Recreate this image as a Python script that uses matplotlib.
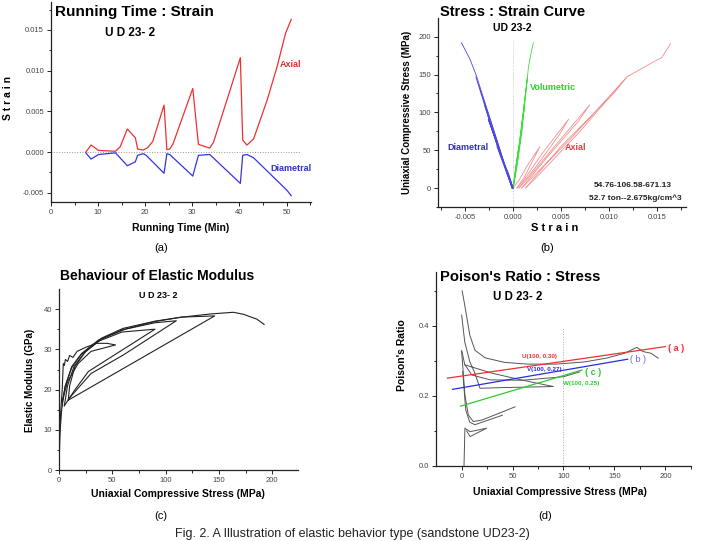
## Imports
import matplotlib.pyplot as plt
from matplotlib.ticker import MultipleLocator

plt.rcParams['font.family'] = ['Liberation Sans', 'DejaVu Sans']

## Data (a) : running time / strain
t_axial = [7.4, 8.5, 10.1, 13.7, 14.7, 16.2, 17.9, 18.4, 19.6, 20.5, 21.6, 24.0, 24.6, 25.2, 25.9,
           30.1, 31.3, 33.7, 34.5, 40.2, 40.7, 41.6, 43.0, 45.9, 48.0, 49.8, 51.0]
axial = [0.0, 0.00086, 0.0002, 0.0001, 0.00065, 0.00283, 0.00176, 0.00037, 0.00025, 0.00053, 0.0013,
         0.00577, 0.0003, 0.00037, 0.001, 0.00782, 0.00094, 0.00049, 0.0012, 0.01159, 0.00147,
         0.00086, 0.0016, 0.0064, 0.0105, 0.0146, 0.0163]
t_diam = [7.4, 8.5, 10.1, 13.7, 16.2, 17.9, 18.4, 19.6, 20.2, 24.0, 24.6, 25.2, 30.1, 31.3, 33.7,
          40.2, 40.7, 41.6, 43.0, 50.1, 51.0]
diam = [-0.0001, -0.00086, -0.0003, -0.0001, -0.00168, -0.0012, -0.0004, -0.0002, -0.0004, -0.0026,
        -0.0002, -0.0003, -0.00295, -0.0004, -0.0003, -0.00385, -0.0004, -0.0003, -0.0007, -0.0047,
        -0.00537]

## Data (b) : stress / strain loops
axial_b = [
    ([0, 0.0006, 0.0015, 0.0028, 0.0022, 0.0012, 0.0004], [0, 10, 30, 55, 40, 15, 0]),
    ([0.0004, 0.0012, 0.0030, 0.0058, 0.0048, 0.0025, 0.0006], [0, 12, 45, 91, 70, 30, 0]),
    ([0.0006, 0.0015, 0.0040, 0.0080, 0.0068, 0.0035, 0.0009], [0, 12, 50, 110, 88, 40, 0]),
    ([0.0009, 0.0020, 0.0060, 0.0119, 0.0105, 0.0050, 0.0013], [0, 14, 65, 147, 125, 55, 0]),
    ([0.0013, 0.0025, 0.0070, 0.0119, 0.0150, 0.0155, 0.01646], [0, 15, 75, 147, 169, 172, 191]),
]
diam_b = [
    ([0, -0.0005, -0.0017, -0.0006, 0], [0, 20, 55, 20, 0]),
    ([0, -0.0013, -0.0026, -0.0012, -0.0001], [0, 45, 91, 40, 0]),
    ([-0.0001, -0.0014, -0.0030, -0.0014, -0.0001], [0, 50, 110, 45, 0]),
    ([-0.0001, -0.0025, -0.0039, -0.0020, -0.0001], [0, 95, 147, 70, 0]),
    ([-0.0001, -0.00136, -0.00247, -0.0038, -0.0045, -0.0054], [0, 50, 94, 147, 170, 192]),
]
vol_b = [
    ([0, 0.0003, 0.0006, 0.0002, 0], [0, 30, 55, 20, 0]),
    ([0, 0.0005, 0.0010, 0.0004, 0], [0, 40, 91, 35, 0]),
    ([0, 0.0006, 0.0012, 0.0005, 0], [0, 50, 110, 40, 0]),
    ([0, 0.0008, 0.0015, 0.0006, 0], [0, 70, 147, 55, 0]),
    ([0, 0.0004, 0.0009, 0.00143, 0.0016, 0.0019, 0.00212], [0, 28, 72, 138, 160, 180, 192]),
]

## Data (c) : elastic modulus / stress
mod_c = [
    ([0, 0.5, 1.5, 3, 4, 5, 6, 8, 10, 13, 17, 25, 35, 45, 53, 40, 30, 18, 8, 3],
     [0, 8, 14, 20, 26.5, 26, 27.5, 27, 28.5, 28, 29.5, 30.5, 31.5, 31.5, 31.1, 30.2, 29.5, 26.5, 22, 17]),
    ([3, 6, 12, 21, 37, 59, 90, 27.5, 15, 5],
     [17, 21, 25.5, 28.8, 32, 34.3, 35, 24.5, 20, 16]),
    ([5, 8, 14, 24, 40, 62, 90, 110, 60.3, 30, 10],
     [16, 21, 25.7, 29.2, 32.6, 35, 36.6, 37.1, 28.6, 24, 18]),
    ([8.7, 10, 15, 25, 40, 60, 90, 115, 146, 8.7],
     [17.4, 21, 25.8, 29.5, 32.8, 35.2, 37, 38, 38.3, 17.4]),
    ([0, 0.9, 2.5, 5.6, 11.9, 21.3, 36.9, 58.8, 90, 115, 143, 163.5, 173, 185.5, 192.3],
     [0, 9.2, 15, 20.7, 25.7, 29, 32.3, 34.8, 36.9, 38, 38.8, 39.2, 38.7, 37.5, 36.2]),
]

## Data (d) : Poisson's ratio / stress
pr_d = [
    ([0.5, 3, 8, 13, 23, 42, 65, 92, 120, 142, 160, 172, 178, 186, 193],
     [0.50, 0.46, 0.374, 0.331, 0.309, 0.296, 0.291, 0.291, 0.297, 0.308, 0.322, 0.339, 0.327, 0.322, 0.308]),
    ([0, 3, 8, 13, 18, 40, 90, 60, 30, 3],
     [0.431, 0.355, 0.298, 0.265, 0.222, 0.224, 0.227, 0.245, 0.265, 0.289]),
    ([0, 3, 10, 28, 60, 100, 116],
     [0.33, 0.29, 0.26, 0.246, 0.245, 0.255, 0.269]),
    ([0, 3.2, 6.5, 11.4, 19.6, 32.7, 52.4],
     [0.327, 0.203, 0.146, 0.127, 0.131, 0.146, 0.169]),
    ([1, 4, 8, 13, 25, 40],
     [0.27, 0.16, 0.125, 0.118, 0.13, 0.145]),
    ([2.3, 3.2, 8.2, 24.5, 8.2, 5],
     [0.0, 0.108, 0.098, 0.108, 0.084, 0.1]),
]
fit_x = {'a': [-14, 200], 'b': [-9, 163], 'c': [-1, 118]}
fit_y = {'a': [0.251, 0.341], 'b': [0.219, 0.305], 'c': [0.171, 0.274]}

## Figure
W, H = 705, 541
fig = plt.figure(figsize=(W / 100, H / 100), dpi=100)


def axe(l, r, b, t):
    # rectangle en pixels -> fraction de figure
    ax = fig.add_axes([l / W, 1 - b / H, (r - l) / W, (b - t) / H])
    ax.spines['top'].set_visible(False)
    ax.spines['right'].set_visible(False)
    for s in ['left', 'bottom']:
        ax.spines[s].set_color('#222')
        ax.spines[s].set_linewidth(0.9)
    ax.tick_params(which='both', direction='out', labelsize=5.5, labelcolor='#444',
                   color='#222', width=0.7, pad=2)
    ax.tick_params(which='major', length=3)
    ax.tick_params(which='minor', length=1.8)
    return ax


def ftxt(x, y, s, **kw):
    fig.text(x / W, 1 - y / H, s, **kw)


## (a)
ax = axe(51, 311, 201.7, 2)
ax.plot([0, 53], [0, 0], ':', color='#999', lw=0.7)
ax.plot(t_axial, axial, color='#ee3030', lw=0.9)
ax.plot(t_diam, diam, color='#3535e0', lw=0.9)
ax.set_xlim(0, 55.2)
ax.set_ylim(-0.0061, 0.01844)
ax.xaxis.set_major_locator(MultipleLocator(10))
ax.xaxis.set_minor_locator(MultipleLocator(5))
ax.yaxis.set_major_locator(MultipleLocator(0.005))
ax.yaxis.set_minor_locator(MultipleLocator(0.0025))
ax.yaxis.set_major_formatter(lambda v, p: '%.3f' % v)
ax.text(48.5, 0.0108, 'Axial', color='#e03030', fontsize=6.5, weight='bold', va='center')
ax.text(46.5, -0.0020, 'Diametral', color='#3030d0', fontsize=6.5, weight='bold', va='center')
ftxt(55, 12, 'Running Time : Strain', fontsize=11, weight='bold', va='center')
ftxt(105, 33, 'U D 23- 2', fontsize=8.5, weight='bold', va='center')
ftxt(8, 98, 'S t r a i n', fontsize=7.5, weight='bold', rotation=90, va='center', ha='center')
ftxt(181, 228, 'Running Time (Min)', fontsize=7.5, weight='bold', va='center', ha='center')
ftxt(161, 248, '(a)', fontsize=8, va='center', ha='center')

## (b)
ax = axe(437.7, 686, 207.3, 18)
ax.plot([0, 0], [-25, 197], ':', color='#bbb', lw=0.6)
for x, y in axial_b:
    ax.plot(x, y, color='#f29090', lw=0.6)
for x, y in vol_b:
    ax.plot(x, y, color='#40dd40', lw=0.6)
for x, y in diam_b:
    ax.plot(x, y, color='#4848e0', lw=0.6)
ax.set_xlim(-0.00788, 0.01806)
ax.set_ylim(-25.5, 224.7)
ax.xaxis.set_major_locator(MultipleLocator(0.005))
ax.xaxis.set_minor_locator(MultipleLocator(0.0025))
ax.yaxis.set_major_locator(MultipleLocator(50))
ax.yaxis.set_minor_locator(MultipleLocator(25))
ax.xaxis.set_major_formatter(lambda v, p: '%.3f' % v)
ax.text(0.0018, 133, 'Volumetric', color='#30d030', fontsize=6.5, weight='bold', va='center')
ax.text(-0.0069, 53, 'Diametral', color='#3030d0', fontsize=6.5, weight='bold', va='center')
ax.text(0.0054, 53, 'Axial', color='#e04040', fontsize=6.5, weight='bold', va='center')
ax.text(0.0166, 3, '54.76-106.58-671.13', fontsize=6, weight='bold', ha='right', va='center', color='#222')
ax.text(0.0176, -13, '52.7 ton--2.675kg/cm^3', fontsize=6, weight='bold', ha='right', va='center', color='#222')
ftxt(440, 12, 'Stress : Strain Curve', fontsize=10.5, weight='bold', va='center')
ftxt(512, 28, 'UD 23-2', fontsize=7.5, weight='bold', va='center', ha='center')
ftxt(407, 112, 'Uniaxial Compressive Stress (MPa)', fontsize=7, weight='bold', rotation=90,
     va='center', ha='center')
ftxt(555, 228, 'S t r a i n', fontsize=8, weight='bold', va='center', ha='center')
ftxt(547, 248, '(b)', fontsize=8, va='center', ha='center')

## (c)
ax = axe(59, 298.3, 470.3, 289.3)
for x, y in mod_c:
    ax.plot(x, y, color='#222', lw=0.8)
ax.set_xlim(0, 224.4)
ax.set_ylim(0, 44.9)
ax.xaxis.set_major_locator(MultipleLocator(50))
ax.xaxis.set_minor_locator(MultipleLocator(25))
ax.yaxis.set_major_locator(MultipleLocator(10))
ax.yaxis.set_minor_locator(MultipleLocator(5))
ftxt(60, 276, 'Behaviour of Elastic Modulus', fontsize=10, weight='bold', va='center')
ftxt(158, 295, 'U D 23- 2', fontsize=6.5, weight='bold', va='center', ha='center')
ftxt(30, 380, 'Elastic Modulus (GPa)', fontsize=7, weight='bold', rotation=90, va='center', ha='center')
ftxt(178, 494, 'Uniaxial Compressive Stress (MPa)', fontsize=7.5, weight='bold', va='center', ha='center')
ftxt(161, 516, '(c)', fontsize=8, va='center', ha='center')

## (d)
ax = axe(436.3, 691, 466, 271.7)
ax.plot([100, 100], [0, 0.398], ':', color='#aaa', lw=0.7)
for x, y in pr_d:
    ax.plot(x, y, color='#555', lw=0.7)
ax.plot(fit_x['a'], fit_y['a'], color='#ee3030', lw=0.9)
ax.plot(fit_x['b'], fit_y['b'], color='#2a2ae0', lw=0.9)
ax.plot(fit_x['c'], fit_y['c'], color='#30c830', lw=0.9)
ax.set_xlim(-24.9, 225.2)
ax.set_ylim(0, 0.555)
ax.xaxis.set_major_locator(MultipleLocator(50))
ax.xaxis.set_minor_locator(MultipleLocator(25))
ax.yaxis.set_major_locator(MultipleLocator(0.2))
ax.yaxis.set_minor_locator(MultipleLocator(0.1))
ax.text(203, 0.337, '( a )', color='#ee3030', fontsize=6.5, weight='bold', va='center')
ax.text(165, 0.303, '( b )', color='#6868f0', fontsize=6.5, va='center')
ax.text(121, 0.268, '( c )', color='#30c830', fontsize=6.5, weight='bold', va='center')
ax.text(59, 0.313, 'U(100, 0.30)', color='#ee3030', fontsize=4.5, weight='bold', va='center')
ax.text(64, 0.276, 'V(100, 0.27)', color='#2a2ae0', fontsize=4.5, weight='bold', va='center')
ax.text(100, 0.236, 'W(100, 0.25)', color='#30c830', fontsize=4.5, weight='bold', va='center')
ftxt(440, 277, "Poison's Ratio : Stress", fontsize=10.6, weight='bold', va='center')
ftxt(493, 297, 'U D 23- 2', fontsize=8.3, weight='bold', va='center')
ftxt(402, 355, "Poison's Ratio", fontsize=7.5, weight='bold', rotation=90, va='center', ha='center')
ftxt(560, 492, 'Uniaxial Compressive Stress (MPa)', fontsize=7.5, weight='bold', va='center', ha='center')
ftxt(545, 516, '(d)', fontsize=8, va='center', ha='center')

## Legende de la figure
ftxt(352, 540.5, 'Fig. 2. A Illustration of elastic behavior type (sandstone UD23-2)',
     fontsize=9, va='bottom', ha='center', color='#222')

plt.savefig('out.png', dpi=100)
